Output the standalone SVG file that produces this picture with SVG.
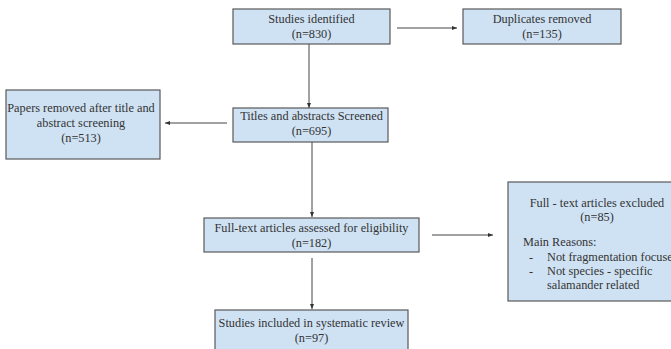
<svg xmlns="http://www.w3.org/2000/svg" width="671" height="349" viewBox="0 0 671 349">
<defs>
<marker id="ah" markerWidth="6" markerHeight="6" refX="5" refY="3" orient="auto" markerUnits="userSpaceOnUse">
<path d="M0,1 L5,3 L0,5 Z" fill="#333"/>
</marker>
<style>
.box{fill:#cfe2f3;stroke:#595959;stroke-width:1.2}
.t{font-family:"Liberation Serif","Times New Roman",serif;font-size:12.3px;fill:#333}
.c{text-anchor:middle}
.ln{stroke:#444;stroke-width:1;fill:none;marker-end:url(#ah)}
</style>
</defs>
<rect width="671" height="349" fill="#fff"/>
<g id="connectors">
<line class="ln" x1="397" y1="28" x2="457" y2="28"/>
<line class="ln" x1="309" y1="44" x2="309" y2="108"/>
<line class="ln" x1="227" y1="123" x2="165" y2="123"/>
<line class="ln" x1="312" y1="142" x2="312" y2="217"/>
<line class="ln" x1="432" y1="235" x2="493" y2="235"/>
<line class="ln" x1="312" y1="258" x2="312" y2="309"/>
</g>
<g id="studies-identified">
<rect class="box" x="233" y="9" width="157" height="35"/>
<text class="t c" x="311.5" y="23">Studies identified</text>
<text class="t c" x="311.5" y="38">(n=830)</text>
</g>
<g id="duplicates-removed">
<rect class="box" x="463" y="9" width="158" height="35"/>
<text class="t c" x="542" y="23">Duplicates removed</text>
<text class="t c" x="542" y="38">(n=135)</text>
</g>
<g id="titles-screened">
<rect class="box" x="233" y="108" width="155" height="34"/>
<text class="t c" x="311.5" y="120">Titles and abstracts Screened</text>
<text class="t c" x="311.5" y="135">(n=695)</text>
</g>
<g id="papers-removed">
<rect class="box" x="6" y="90" width="154" height="69"/>
<text class="t c" x="81" y="112">Papers removed after title and</text>
<text class="t c" x="81" y="127">abstract screening</text>
<text class="t c" x="81" y="142">(n=513)</text>
</g>
<g id="full-text-assessed">
<rect class="box" x="204" y="218" width="215" height="34"/>
<text class="t c" x="311.5" y="232">Full-text articles assessed for eligibility</text>
<text class="t c" x="311.5" y="247">(n=182)</text>
</g>
<g id="full-text-excluded">
<rect class="box" x="508" y="182" width="190" height="119"/>
<text class="t c" x="597" y="207">Full - text articles excluded</text>
<text class="t c" x="597" y="221">(n=85)</text>
<text class="t" x="523" y="246">Main Reasons:</text>
<text class="t" x="529" y="261">-</text>
<text class="t" x="547" y="261">Not fragmentation focused</text>
<text class="t" x="529" y="275">-</text>
<text class="t" x="547" y="275">Not species - specific</text>
<text class="t" x="547" y="289">salamander related</text>
</g>
<g id="studies-included">
<rect class="box" x="215" y="310" width="193" height="45"/>
<text class="t c" x="311.5" y="327">Studies included in systematic review</text>
<text class="t c" x="311.5" y="342">(n=97)</text>
</g>
</svg>
